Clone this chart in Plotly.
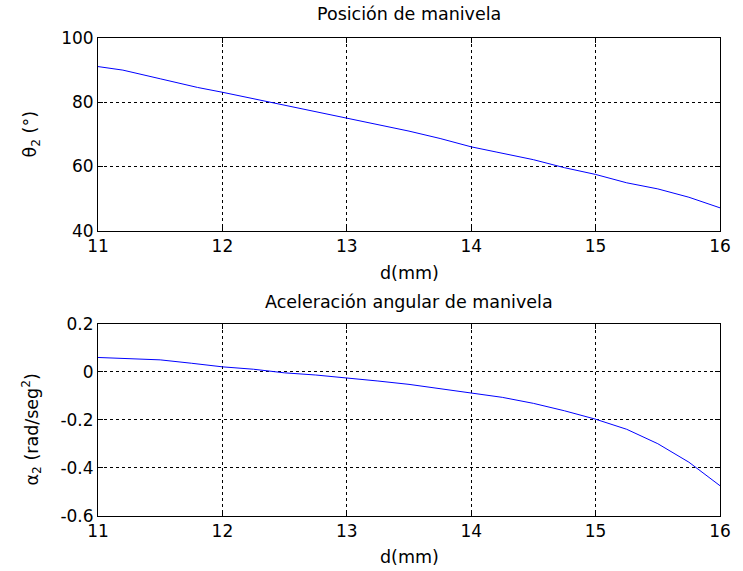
import plotly.graph_objects as go

d_top = [11, 11.2, 11.5, 11.8, 12, 12.3, 12.6, 13, 13.3, 13.5, 13.75, 14, 14.2, 14.5, 14.75, 15, 15.25, 15.5, 15.75, 16]
theta2 = [91.1, 90.0, 87.3, 84.6, 83.1, 80.7, 78.1, 75.0, 72.5, 71.0, 68.7, 66.1, 64.5, 62.1, 59.6, 57.5, 54.9, 53.0, 50.4, 47.1]

d_bot = [11, 11.5, 11.75, 12, 12.25, 12.5, 12.75, 13, 13.25, 13.5, 13.75, 14, 14.25, 14.5, 14.75, 15, 15.25, 15.5, 15.75, 16]
alpha2 = [0.06, 0.05, 0.036, 0.021, 0.011, -0.004, -0.013, -0.024, -0.038, -0.052, -0.069, -0.087, -0.106,
          -0.131, -0.162, -0.197, -0.239, -0.299, -0.376, -0.474]

x_ticks = [11, 12, 13, 14, 15, 16]
top_ticks = [40, 60, 80, 100]
bot_ticks = [-0.6, -0.4, -0.2, 0, 0.2]
bot_ticklabels = ["-0.6", "-0.4", "-0.2", "0", "0.2"]

FONT = "DejaVu Sans, Liberation Sans, Arial, sans-serif"
TICK_SIZE = 17
TEXT_SIZE = 17.5

fig = go.Figure()
fig.add_trace(go.Scatter(x=d_top, y=theta2, mode="lines", line=dict(color="#0000ff", width=1),
                         xaxis="x", yaxis="y", showlegend=False))
fig.add_trace(go.Scatter(x=d_bot, y=alpha2, mode="lines", line=dict(color="#0000ff", width=1),
                         xaxis="x2", yaxis="y2", showlegend=False))

axcommon = dict(showline=True, mirror="ticks", linecolor="black", linewidth=1,
                showgrid=True, gridcolor="black", griddash="dot", gridwidth=1,
                ticks="inside", ticklen=5, tickcolor="black", zeroline=False,
                tickfont=dict(family=FONT, size=TICK_SIZE, color="black"))

TOP_LO = 0.597
BOT_HI = 0.402

def ann(text, x, y, angle=0):
    return dict(text=text, x=x, y=y, xref="paper", yref="paper", xanchor="center",
                yanchor="middle", showarrow=False, textangle=angle,
                font=dict(family=FONT, size=TEXT_SIZE, color="black"))

fig.update_layout(
    width=743, height=571,
    margin=dict(l=98, r=12, t=38, b=55),
    plot_bgcolor="white", paper_bgcolor="white",
    font=dict(family=FONT, color="black"),
    xaxis=dict(domain=[0, 1], anchor="y", range=[11, 16], tickvals=x_ticks, **axcommon),
    yaxis=dict(domain=[TOP_LO, 1], anchor="x", range=[40, 100], tickvals=top_ticks, **axcommon),
    xaxis2=dict(domain=[0, 1], anchor="y2", range=[11, 16], tickvals=x_ticks, **axcommon),
    yaxis2=dict(domain=[0, BOT_HI], anchor="x2", range=[-0.6, 0.2], tickvals=bot_ticks,
                ticktext=bot_ticklabels, **axcommon),
    annotations=[
        ann("Posición de manivela", 0.5, 1.050),
        ann("d(mm)", 0.5, 0.508),
        ann("θ<sub>2</sub> (°)", -0.107, 0.799, -90),
        ann("Aceleración angular de manivela", 0.5, 0.448),
        ann("d(mm)", 0.5, -0.086),
        ann("α<sub>2</sub> (rad/seg<sup>2</sup>)", -0.107, 0.182, -90),
    ],
)

fig.write_html("out.html", config={"displayModeBar": False},
               post_script="document.body.style.margin='0';")
